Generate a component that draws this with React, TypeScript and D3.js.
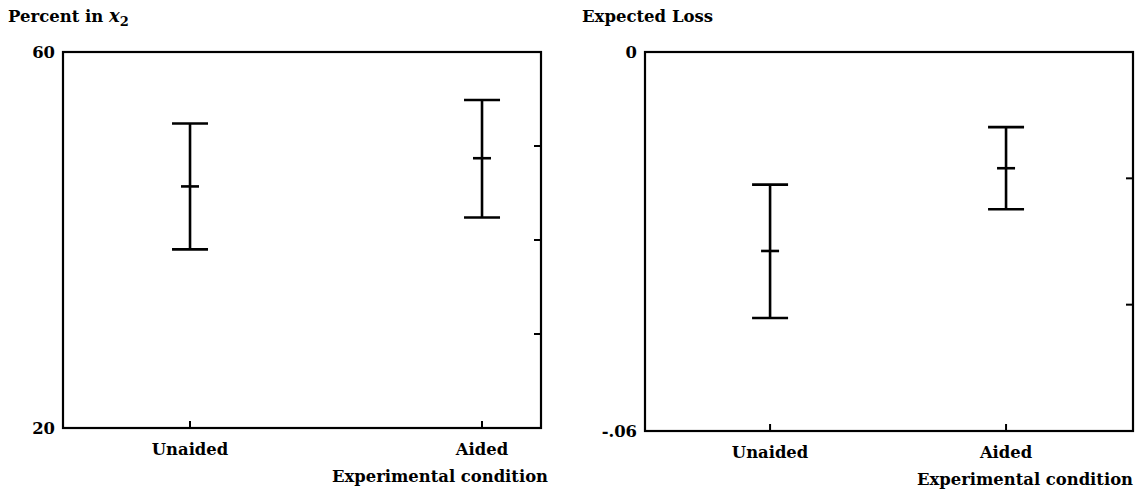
import React from "react"
import * as d3 from "d3"

const categories = ["Unaided", "Aided"]

// left panel: percent choosing x2
const pctLow = [39.0, 42.4]
const pctMean = [45.7, 48.7]
const pctHigh = [52.4, 54.9]
const pctTicks = [20, 30, 40, 50, 60]
const pctTickLabels = ["20", "60"]

// right panel: expected loss
const lossLow = [-0.0421, -0.0249]
const lossMean = [-0.0315, -0.0184]
const lossHigh = [-0.021, -0.0119]
const lossTicks = [-0.06, -0.04, -0.02, 0]
const lossTickLabels = ["-.06", "0"]

const W = 1137
const H = 493
const font = "'DejaVu Serif', serif"
const fs = 16.4

type PanelProps = {
  left: number
  right: number
  top: number
  bottom: number
  xDomain: [number, number]
  yDomain: [number, number]
  low: number[]
  mean: number[]
  high: number[]
  ticks: number[]
  tickLabels: string[]
  labelX: number
  titleEnd: number
}

const Panel = (props: PanelProps) => {
  const { left, right, top, bottom, xDomain, yDomain, low, mean, high, ticks, tickLabels, labelX, titleEnd } = props
  const x = d3.scaleLinear().domain(xDomain).range([left, right])
  const y = d3.scaleLinear().domain(yDomain).range([bottom, top])
  const cap = 18
  const mid = 9
  const ends = [yDomain[0], yDomain[1]]
  return (
    <g>
      <rect x={left} y={top} width={right - left} height={bottom - top} fill="none" stroke="#000" strokeWidth={2.2} />
      {ticks
        .filter((t) => t !== yDomain[0] && t !== yDomain[1])
        .map((t, i) => (
          <line key={"yt" + i} x1={right - 7} x2={right} y1={y(t)} y2={y(t)} stroke="#000" strokeWidth={2} />
        ))}
      {ends.map((t, i) => (
        <text
          key={"yl" + i}
          x={labelX}
          y={y(t)}
          dy="0.35em"
          textAnchor="end"
          fontFamily={font}
          fontWeight="bold"
          fontSize={fs}
        >
          {tickLabels[i]}
        </text>
      ))}
      {categories.map((c, i) => (
        <g key={c}>
          <line x1={x(i)} x2={x(i)} y1={bottom} y2={bottom - 7} stroke="#000" strokeWidth={2} />
          <text x={x(i)} y={bottom + 27} textAnchor="middle" fontFamily={font} fontWeight="bold" fontSize={fs}>
            {c}
          </text>
          <line x1={x(i)} x2={x(i)} y1={y(low[i])} y2={y(high[i])} stroke="#000" strokeWidth={2.6} />
          <line x1={x(i) - cap} x2={x(i) + cap} y1={y(high[i])} y2={y(high[i])} stroke="#000" strokeWidth={2.6} />
          <line x1={x(i) - cap} x2={x(i) + cap} y1={y(low[i])} y2={y(low[i])} stroke="#000" strokeWidth={2.6} />
          <line x1={x(i) - mid} x2={x(i) + mid} y1={y(mean[i])} y2={y(mean[i])} stroke="#000" strokeWidth={2.6} />
        </g>
      ))}
      <text x={titleEnd} y={bottom + 54} textAnchor="end" fontFamily={font} fontWeight="bold" fontSize={fs}>
        Experimental condition
      </text>
    </g>
  )
}

export default function App() {
  return (
    <svg width={W} height={H} style={{ position: "absolute", left: 0, top: 0, background: "#fff" }}>
      <text x={8} y={22} fontFamily={font} fontWeight="bold" fontSize={16.5}>
        Percent in{" "}
        <tspan fontStyle="italic" fontSize={18}>x</tspan>
        <tspan fontSize={13} dy={4}>2</tspan>
      </text>
      <text x={582} y={22} fontFamily={font} fontWeight="bold" fontSize={16.5}>
        Expected Loss
      </text>
      <Panel
        left={63}
        right={541}
        top={52}
        bottom={428}
        xDomain={[-0.435, 1.202]}
        yDomain={[20, 60]}
        low={pctLow}
        mean={pctMean}
        high={pctHigh}
        ticks={pctTicks}
        tickLabels={pctTickLabels}
        labelX={55}
        titleEnd={548}
      />
      <Panel
        left={645}
        right={1133}
        top={52}
        bottom={431}
        xDomain={[-0.53, 1.538]}
        yDomain={[-0.06, 0]}
        low={lossLow}
        mean={lossMean}
        high={lossHigh}
        ticks={lossTicks}
        tickLabels={lossTickLabels}
        labelX={637}
        titleEnd={1133}
      />
    </svg>
  )
}
